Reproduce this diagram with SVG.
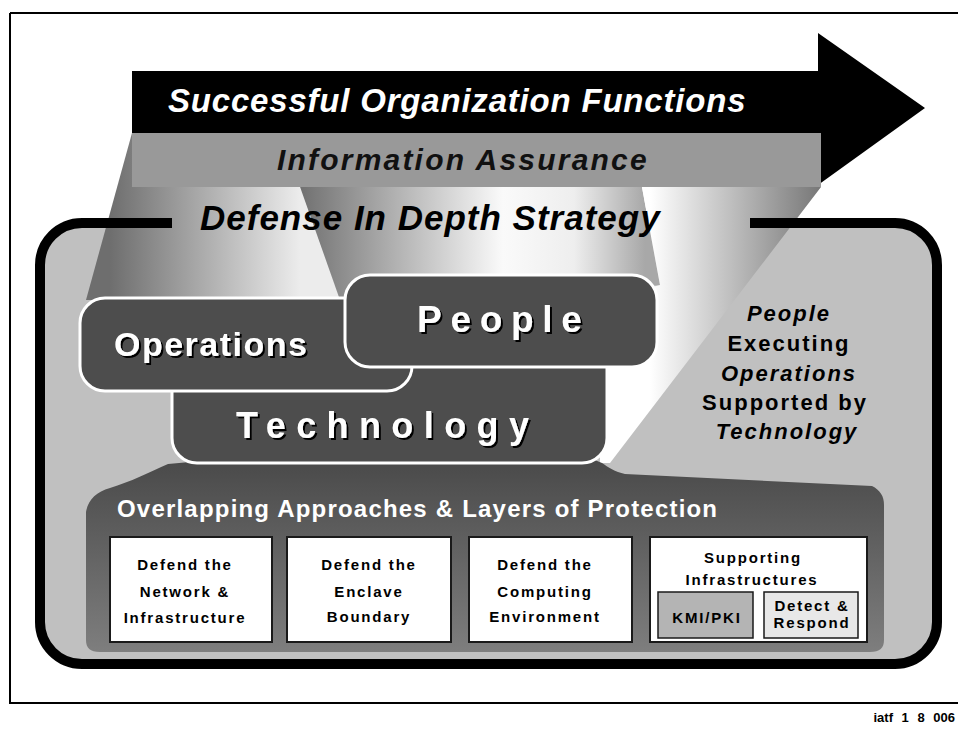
<svg xmlns="http://www.w3.org/2000/svg" width="958" height="730" viewBox="0 0 958 730">
<style>
text{font-family:"Liberation Sans",Arial,sans-serif;font-weight:bold}
.it{font-style:italic}
.big{fill:#fff;filter:url(#sh)}
.box{fill:#fff;stroke:#1a1a1a;stroke-width:2}
.dk{fill:#4d4d4d;stroke:#fff;stroke-width:3}
.sm{font-size:15px;letter-spacing:1.8px;fill:#000;text-anchor:middle}
.rt{font-size:22px;letter-spacing:2px;fill:#000;text-anchor:middle}
</style>
<defs>
<filter id="sh" x="-10%" y="-20%" width="130%" height="150%">
<feDropShadow dx="2" dy="2" stdDeviation="0" flood-color="#000" flood-opacity="1"/>
</filter>
<linearGradient id="gL" gradientUnits="userSpaceOnUse" x1="110" y1="0" x2="300" y2="0">
<stop offset="0" stop-color="#6e6e6e"/><stop offset="1" stop-color="#ececec"/>
</linearGradient>
<linearGradient id="gM" gradientUnits="userSpaceOnUse" x1="290" y1="0" x2="645" y2="0">
<stop offset="0" stop-color="#6a6a6a"/><stop offset="0.6" stop-color="#fafafa"/><stop offset="0.8" stop-color="#eeeeee"/><stop offset="1" stop-color="#a8a8a8"/>
</linearGradient>
<linearGradient id="gR" gradientUnits="userSpaceOnUse" x1="650" y1="0" x2="821" y2="0">
<stop offset="0" stop-color="#ffffff"/><stop offset="1" stop-color="#777777"/>
</linearGradient>
<linearGradient id="gO" gradientUnits="userSpaceOnUse" x1="0" y1="462" x2="0" y2="652">
<stop offset="0" stop-color="#4a4a4a"/><stop offset="1" stop-color="#7e7e7e"/>
</linearGradient>
</defs>
<rect width="958" height="730" fill="#fff"/>
<path d="M10,13 H958 M10,13 V703 H958" fill="none" stroke="#000" stroke-width="2"/>

<g id="container-fill">
<rect x="40" y="223" width="897" height="441" rx="42" fill="#c0c0c0"/>
</g>

<g id="beams">
<polygon points="132,133 300,133 340,300 86,300" fill="url(#gL)"/>
<polygon points="281,133 632,133 660,285 340,300" fill="url(#gM)"/>
<polygon points="632,133 821,133 821,187 610,463 600,463 600,300 660,285" fill="url(#gR)"/>
</g>

<g id="arrow">
<polygon points="132,71 818,71 818,33 925,108 818,185 818,133 132,133" fill="#000"/>
<rect x="132" y="133" width="689" height="54" fill="#999"/>
<text x="168" y="112" class="it" font-size="33" letter-spacing="0.8" fill="#fff">Successful Organization Functions</text>
<text x="277" y="170" class="it" font-size="30" letter-spacing="2.2" fill="#111">Information Assurance</text>
</g>

<g id="container-border">
<path d="M172,223 H82 A42,42 0 0 0 40,265 V622 A42,42 0 0 0 82,664 H895 A42,42 0 0 0 937,622 V265 A42,42 0 0 0 895,223 H750" fill="none" stroke="#000" stroke-width="10"/>
<text x="200" y="230" class="it" font-size="35" letter-spacing="1" fill="#000">Defense In Depth Strategy</text>
</g>

<g id="layers">
<path d="M86,640 V512 C88,500 96,492 110,488 C130,482 150,472 168,464 L190,462 L195,458 L590,458 L602,463 C608,467 615,472 625,474 L872,486 C880,490 884,496 884,505 V640 C884,648 880,652 870,652 H100 C90,652 86,648 86,640 Z" fill="url(#gO)"/>
<text x="117" y="517" font-size="24" letter-spacing="1.2" fill="#fff">Overlapping Approaches &amp; Layers of Protection</text>
</g>

<g id="technology">
<rect x="172" y="330" width="435" height="133" rx="25" class="dk"/>
<text x="236" y="438" font-size="36" letter-spacing="10.4" class="big">Technology</text>
</g>
<g id="operations">
<rect x="80" y="298" width="332" height="93" rx="25" class="dk"/>
<text x="114" y="356" font-size="34" letter-spacing="1.5" class="big">Operations</text>
</g>
<g id="people">
<rect x="345" y="275" width="312" height="92" rx="25" class="dk"/>
<text x="417" y="332" font-size="37" letter-spacing="8.7" class="big">People</text>
</g>

<g id="caption">
<text x="789" y="321" class="rt it">People</text>
<text x="789" y="351" class="rt">Executing</text>
<text x="789" y="381" class="rt it">Operations</text>
<text x="785" y="410" class="rt">Supported by</text>
<text x="787" y="439" class="rt it">Technology</text>
</g>

<g id="network">
<rect x="110" y="537" width="162" height="105" class="box"/>
<text x="185" y="570" class="sm">Defend the</text>
<text x="185" y="597" class="sm">Network &amp;</text>
<text x="185" y="623" class="sm">Infrastructure</text>
</g>
<g id="enclave">
<rect x="287" y="537" width="164" height="105" class="box"/>
<text x="369" y="570" class="sm">Defend the</text>
<text x="369" y="597" class="sm">Enclave</text>
<text x="369" y="622" class="sm">Boundary</text>
</g>
<g id="computing">
<rect x="469" y="537" width="163" height="105" class="box"/>
<text x="545" y="570" class="sm">Defend the</text>
<text x="545" y="597" class="sm">Computing</text>
<text x="545" y="622" class="sm">Environment</text>
</g>
<g id="supporting">
<rect x="650" y="537" width="217" height="105" class="box"/>
<text x="753" y="563" class="sm">Supporting</text>
<text x="752" y="585" class="sm">Infrastructures</text>
</g>
<g id="kmi">
<rect x="658" y="592" width="95" height="46" fill="#b4b4b4" stroke="#1a1a1a" stroke-width="1.5"/>
<text x="707" y="623" class="sm">KMI/PKI</text>
</g>
<g id="detect">
<rect x="764" y="592" width="94" height="46" fill="#e8e8e8" stroke="#1a1a1a" stroke-width="1.5"/>
<text x="812" y="611" class="sm">Detect &amp;</text>
<text x="812" y="628" class="sm">Respond</text>
</g>

<text x="955" y="722" font-size="13" word-spacing="5" text-anchor="end" fill="#000">iatf 1 8 006</text>
</svg>
